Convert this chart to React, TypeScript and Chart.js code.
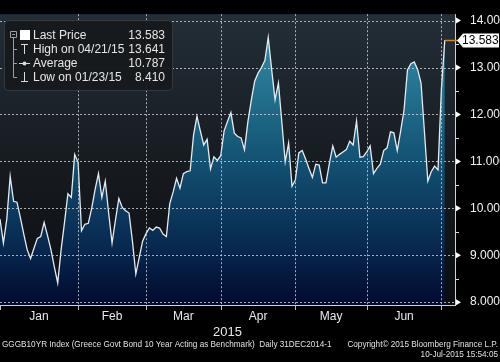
import React, { useEffect, useRef } from "react";
import { Chart, registerables } from "chart.js";

Chart.register(...registerables);

// Business-day index (0 = 31 Dec 2014)
const yields: number[] = [
  9.77, 9.26, 9.77, 10.68, 10.15, 10.13, 9.8, 9.45, 9.12, 8.93,
  9.15, 9.36, 9.4, 9.7, 9.42, 9.12, 8.75, 8.41, 9.12, 9.7,
  10.31, 10.23, 11.15, 10.98, 9.52, 9.66, 9.68, 10.0, 10.4, 10.74,
  10.23, 10.58, 9.9, 9.26, 9.75, 10.21, 10.02, 9.95, 9.9, 9.3,
  8.6, 8.95, 9.3, 9.46, 9.58, 9.53, 9.6, 9.58, 9.45, 9.4,
  10.1, 10.35, 10.64, 10.43, 10.74, 10.78, 10.8, 11.56, 11.96, 11.65,
  11.35, 11.47, 10.84, 11.1, 11.02, 11.12, 11.65, 11.85, 12.04, 11.6,
  11.53, 11.5, 11.25, 11.84, 12.3, 12.71, 12.88, 13.0, 13.15, 13.641,
  12.96, 12.31, 12.67, 11.84, 10.99, 11.39, 10.47, 10.61, 11.18, 11.23,
  11.05, 10.85, 10.66, 10.94, 10.92, 10.54, 10.54, 10.95, 11.33, 11.09,
  11.15, 11.2, 11.25, 11.43, 11.35, 11.86, 11.09, 11.1, 11.2, 11.33,
  10.74, 10.85, 10.94, 11.23, 11.29, 11.63, 11.61, 11.23, 11.65, 12.1,
  12.95, 13.08, 13.12, 12.96, 12.67, 11.63, 10.58, 10.78, 10.9, 10.82,
  12.55, 13.583,
];
const dayIndex: number[] = yields.map((_, i) => i);

const monthStarts = [23, 43, 65, 87, 108, 130];
const monthLabels = ["Jan", "Feb", "Mar", "Apr", "May", "Jun"];
const yearLabel = "2015";
const yTicks = [8, 9, 10, 11, 12, 13, 14];
const yMinorTicks = [8.5, 9.5, 10.5, 11.5, 12.5, 13.5];
const lastPrice = 13.583;

const legendRows = [
  { label: "Last Price", value: "13.583" },
  { label: "High on 04/21/15", value: "13.641" },
  { label: "Average", value: "10.787" },
  { label: "Low on 01/23/15", value: "8.410" },
];
const footerLeft =
  "GGGB10YR Index (Greece Govt Bond 10 Year Acting as Benchmark)  Daily 31DEC2014-1";
const footerRight = "Copyright\u00A9 2015 Bloomberg Finance L.P.";
const footerStamp = "10-Jul-2015 15:54:05";

const FONT = '"Liberation Sans", Arial, sans-serif';
const GRID = "rgba(205,210,215,0.8)";

const decorPlugin = {
  id: "decor",
  beforeDraw(chart: any) {
    const { ctx, chartArea: ca, width, height } = chart;
    ctx.save();
    ctx.fillStyle = "#000000";
    ctx.fillRect(0, 0, width, height);
    const g = ctx.createLinearGradient(0, ca.top, 0, ca.bottom);
    g.addColorStop(0, "#232e37");
    g.addColorStop(0.55, "#161a1f");
    g.addColorStop(1, "#0b0d10");
    ctx.fillStyle = g;
    ctx.fillRect(ca.left, ca.top, ca.right - ca.left, ca.bottom - ca.top);
    ctx.restore();
  },
  afterDatasetsDraw(chart: any) {
    const { ctx, chartArea: ca } = chart;
    const xs = chart.scales.x;
    const ys = chart.scales.y;
    ctx.save();
    ctx.strokeStyle = GRID;
    ctx.lineWidth = 1;
    ctx.setLineDash([2, 2]);
    ctx.beginPath();
    monthStarts.forEach((m) => {
      const px = Math.round(xs.getPixelForValue(m)) + 0.5;
      ctx.moveTo(px, ca.top);
      ctx.lineTo(px, ca.bottom);
    });
    yTicks.forEach((v) => {
      const py = Math.round(ys.getPixelForValue(v)) + 0.5;
      ctx.moveTo(ca.left, py);
      ctx.lineTo(ca.right, py);
    });
    ctx.stroke();
    ctx.restore();
  },
  afterDraw(chart: any) {
    const { ctx, chartArea: ca } = chart;
    const xs = chart.scales.x;
    const ys = chart.scales.y;
    ctx.save();

    // axis lines
    ctx.strokeStyle = "#cfd3d6";
    ctx.lineWidth = 1;
    ctx.beginPath();
    ctx.moveTo(ca.left, Math.round(ca.bottom) + 0.5);
    ctx.lineTo(ca.right + 1, Math.round(ca.bottom) + 0.5);
    ctx.moveTo(Math.round(ca.right) + 0.5, ca.top);
    ctx.lineTo(Math.round(ca.right) + 0.5, ca.bottom + 1);
    ctx.stroke();

    // month tick marks
    ctx.strokeStyle = "#bfc3c6";
    ctx.beginPath();
    [0, ...monthStarts].forEach((m) => {
      const px = Math.round(xs.getPixelForValue(m)) + 0.5;
      ctx.moveTo(px, ca.bottom);
      ctx.lineTo(px, ca.bottom + 5);
    });
    ctx.stroke();

    // y ticks
    ctx.fillStyle = "#ffffff";
    yTicks.forEach((v) => {
      const py = ys.getPixelForValue(v);
      ctx.beginPath();
      ctx.moveTo(ca.right + 1, py - 3);
      ctx.lineTo(ca.right + 6, py);
      ctx.lineTo(ca.right + 1, py + 3);
      ctx.closePath();
      ctx.fill();
    });
    ctx.strokeStyle = "#d8d8d8";
    ctx.beginPath();
    yMinorTicks.forEach((v) => {
      const py = Math.round(ys.getPixelForValue(v)) + 0.5;
      ctx.moveTo(ca.right, py);
      ctx.lineTo(ca.right + 4, py);
    });
    ctx.stroke();

    // month labels
    const bounds = [0, ...monthStarts];
    ctx.fillStyle = "#e8e8e8";
    ctx.font = `12px ${FONT}`;
    ctx.textAlign = "center";
    ctx.textBaseline = "middle";
    monthLabels.forEach((m, i) => {
      const cx = (xs.getPixelForValue(bounds[i]) + xs.getPixelForValue(bounds[i + 1])) / 2;
      ctx.fillText(m, cx, ca.bottom + 12);
    });
    ctx.font = `13px ${FONT}`;
    ctx.fillText(yearLabel, (ca.left + ca.right) / 2, ca.bottom + 27);

    // last price line + label
    const lastX = xs.getPixelForValue(dayIndex[dayIndex.length - 1]);
    const lastY = Math.round(ys.getPixelForValue(lastPrice)) + 0.5;
    ctx.strokeStyle = "#d08a1e";
    ctx.lineWidth = 1.5;
    ctx.beginPath();
    ctx.moveTo(lastX, lastY);
    ctx.lineTo(ca.right + 3, lastY);
    ctx.stroke();
    ctx.fillStyle = "#ffffff";
    ctx.beginPath();
    ctx.moveTo(ca.right + 2, lastY);
    ctx.lineTo(ca.right + 8, lastY - 7);
    ctx.lineTo(499, lastY - 7);
    ctx.lineTo(499, lastY + 7);
    ctx.lineTo(ca.right + 8, lastY + 7);
    ctx.closePath();
    ctx.fill();
    ctx.fillStyle = "#000000";
    ctx.font = `12px ${FONT}`;
    ctx.textAlign = "left";
    ctx.fillText(lastPrice.toFixed(3), ca.right + 7, lastY + 0.5);

    // legend box
    ctx.fillStyle = "rgba(22,25,28,0.95)";
    ctx.strokeStyle = "#33383d";
    ctx.lineWidth = 1;
    ctx.beginPath();
    ctx.roundRect(4.5, 20.5, 168, 70, 4);
    ctx.fill();
    ctx.stroke();

    const rowY = [35, 49, 63, 77];
    // tree
    ctx.strokeStyle = "#9a9ea2";
    ctx.beginPath();
    ctx.rect(10.5, 31.5, 6, 6);
    ctx.moveTo(12, 34.5);
    ctx.lineTo(15, 34.5);
    ctx.moveTo(13.5, 37.5);
    ctx.lineTo(13.5, rowY[3] + 0.5);
    [1, 2, 3].forEach((r) => {
      ctx.moveTo(13.5, rowY[r] + 0.5);
      ctx.lineTo(17, rowY[r] + 0.5);
    });
    ctx.stroke();
    // icons
    ctx.fillStyle = "#ffffff";
    ctx.fillRect(20, 30, 10, 10);
    ctx.strokeStyle = "#dcdcdc";
    ctx.beginPath();
    ctx.moveTo(21, 44.5);
    ctx.lineTo(28, 44.5);
    ctx.moveTo(24.5, 44.5);
    ctx.lineTo(24.5, 54);
    ctx.moveTo(19, 63.5);
    ctx.lineTo(30, 63.5);
    ctx.moveTo(24.5, 72);
    ctx.lineTo(24.5, 81.5);
    ctx.moveTo(21, 81.5);
    ctx.lineTo(28, 81.5);
    ctx.stroke();
    ctx.fillStyle = "#dcdcdc";
    ctx.beginPath();
    ctx.arc(24.5, 63.5, 2, 0, Math.PI * 2);
    ctx.fill();
    // legend text
    ctx.fillStyle = "#e6e6e6";
    ctx.font = `12px ${FONT}`;
    ctx.textBaseline = "middle";
    legendRows.forEach((r, i) => {
      ctx.textAlign = "left";
      ctx.fillText(r.label, 33, rowY[i] + 0.5);
      ctx.textAlign = "right";
      ctx.fillText(r.value, 165, rowY[i] + 0.5);
    });

    // footer
    ctx.fillStyle = "#e0e0e0";
    ctx.font = `8.2px ${FONT}`;
    ctx.textAlign = "left";
    ctx.fillText(footerLeft, 2, 345);
    ctx.textAlign = "right";
    ctx.fillText(footerRight, 498, 345);
    ctx.fillText(footerStamp, 498, 355);

    ctx.restore();
  },
};

export default function App() {
  const ref = useRef<HTMLCanvasElement | null>(null);

  useEffect(() => {
    document.body.style.margin = "0";
    document.body.style.background = "#000";
    const canvas = ref.current;
    if (!canvas) return;
    const chart = new Chart(canvas, {
      type: "line",
      data: {
        datasets: [
          {
            data: dayIndex.map((d, i) => ({ x: d, y: yields[i] })),
            borderColor: "#e4ecf0",
            borderWidth: 1.3,
            pointRadius: 0,
            tension: 0,
            fill: "start",
            backgroundColor: (c: any) => {
              const area = c.chart.chartArea;
              if (!area) return "#125173";
              const g = c.chart.ctx.createLinearGradient(0, area.top, 0, area.bottom);
              g.addColorStop(0, "#3a9ab4");
              g.addColorStop(0.15, "#2b819c");
              g.addColorStop(0.5, "#135273");
              g.addColorStop(0.8, "#08284f");
              g.addColorStop(1, "#020a2e");
              return g;
            },
          },
        ],
      },
      options: {
        responsive: false,
        animation: false,
        events: [],
        layout: { padding: 0 },
        plugins: { legend: { display: false }, tooltip: { enabled: false } },
        scales: {
          x: {
            type: "linear",
            min: 0,
            max: 134,
            afterBuildTicks: (s: any) => {
              s.ticks = monthStarts.map((v) => ({ value: v }));
            },
            afterFit: (s: any) => {
              s.height = 57;
            },
            ticks: { display: false },
            grid: { display: false },
            border: { display: false },
          },
          y: {
            type: "linear",
            position: "right",
            min: 7.94,
            max: 14.136,
            afterBuildTicks: (s: any) => {
              s.ticks = yTicks.map((v) => ({ value: v }));
            },
            afterFit: (s: any) => {
              s.width = 45;
            },
            ticks: {
              color: "#f2f2f2",
              font: { family: FONT, size: 12 },
              padding: 7,
              callback: (v: any) => Number(v).toFixed(3),
            },
            grid: { display: false },
            border: { display: false },
          },
        },
      },
      plugins: [decorPlugin],
    });
    return () => chart.destroy();
  }, []);

  return (
    <div style={{ width: 500, height: 362, background: "#000" }}>
      <canvas ref={ref} width={500} height={362} />
    </div>
  );
}
